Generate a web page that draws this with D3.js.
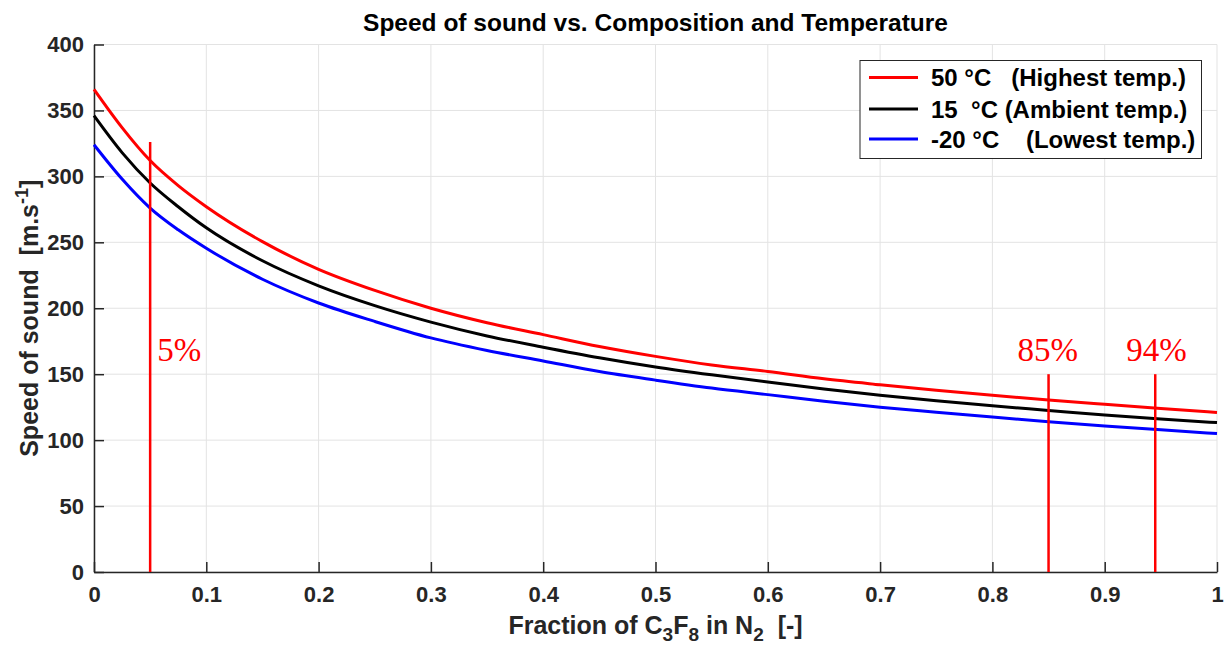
<!DOCTYPE html>
<html>
<head>
<meta charset="utf-8">
<script src="https://cdn.jsdelivr.net/npm/d3@7"></script>
<style>
  body { margin: 0; background: #fff; }
  svg { font-family: "Liberation Sans", Arial, sans-serif; }
</style>
</head>
<body>
<svg width="1231" height="646"></svg>
<script>
// fraction of C3F8 in N2
var fraction = [0, 0.025, 0.05, 0.075, 0.1, 0.15, 0.2, 0.25, 0.3, 0.35, 0.4, 0.45, 0.5,
                0.55, 0.6, 0.65, 0.7, 0.75, 0.8, 0.85, 0.9, 0.95, 1.0];
// speed of sound, m/s
var speed50 = [366, 337, 312, 293, 277, 250.5, 229.5, 213.5, 200, 189, 180, 171, 163.5,
               157, 152, 146.5, 142, 137.8, 134, 130.5, 127.2, 124, 121];
var speed15 = [346, 318, 295, 277, 261, 236, 217, 202, 189.5, 179, 170.5, 162.5, 155.5,
               149.5, 144, 138.8, 134, 129.8, 126, 122.5, 119, 116, 113.3];
var speedM20 = [324, 298, 276, 259.5, 245.5, 222, 204, 190, 177.5, 168, 160, 152, 145.5,
                139.5, 134.5, 129.5, 125, 121.2, 117.5, 114, 110.8, 107.8, 105];

var seriesNames = ["50 °C   (Highest temp.)", "15  °C (Ambient temp.)", "-20 °C    (Lowest temp.)"];
var seriesColors = ["#ff0000", "#000000", "#0000ff"];
var seriesData = [speed50, speed15, speedM20];

// vertical marker lines: position, top value, label
var markerX = [0.05, 0.85, 0.945];
var markerTop = [326, 150, 150];
var markerLabels = ["5%", "85%", "94%"];

var xTicks = [0, 0.1, 0.2, 0.3, 0.4, 0.5, 0.6, 0.7, 0.8, 0.9, 1];
var yTicks = [0, 50, 100, 150, 200, 250, 300, 350, 400];

var svg = d3.select("svg");
var pLeft = 94, pRight = 1217, pTop = 44.5, pBottom = 572;

var x = d3.scaleLinear().domain([0, 1]).range([pLeft, pRight]);
var y = d3.scaleLinear().domain([0, 400]).range([pBottom, pTop]);

// grid
svg.append("g").selectAll("line")
    .data(xTicks).enter().append("line")
    .attr("x1", d => x(d)).attr("x2", d => x(d))
    .attr("y1", pTop).attr("y2", pBottom)
    .attr("stroke", "#e3e3e3").attr("stroke-width", 1);
svg.append("g").selectAll("line")
    .data(yTicks).enter().append("line")
    .attr("x1", pLeft).attr("x2", pRight)
    .attr("y1", d => y(d)).attr("y2", d => y(d))
    .attr("stroke", "#e3e3e3").attr("stroke-width", 1);

// axes (ticks pointing inward)
var xAxis = svg.append("g")
    .attr("transform", "translate(0," + pBottom + ")")
    .call(d3.axisBottom(x).tickValues(xTicks).tickSizeInner(-10).tickSizeOuter(0).tickPadding(14)
        .tickFormat(d => d === 0 || d === 1 ? d3.format("d")(d) : d3.format(".1f")(d)));
var yAxis = svg.append("g")
    .attr("transform", "translate(" + pLeft + ",0)")
    .call(d3.axisLeft(y).tickValues(yTicks).tickSizeInner(-10).tickSizeOuter(0).tickPadding(10));

[xAxis, yAxis].forEach(function (g) {
    g.select(".domain").attr("stroke", "#262626").attr("stroke-width", 1.5);
    g.selectAll(".tick line").attr("stroke", "#262626").attr("stroke-width", 1.5);
    g.selectAll(".tick text")
        .attr("fill", "#262626")
        .style("font-size", "22px")
        .style("font-weight", "bold")
        .style("font-family", "'Liberation Sans', Arial, sans-serif");
});

// curves
var line = d3.line()
    .x(function (d, i) { return x(fraction[i]); })
    .y(function (d) { return y(d); })
    .curve(d3.curveMonotoneX);

svg.append("g").selectAll("path")
    .data(seriesData).enter().append("path")
    .attr("d", d => line(d))
    .attr("fill", "none")
    .attr("stroke", (d, i) => seriesColors[i])
    .attr("stroke-width", 3);

// marker lines and labels
svg.append("g").selectAll("line")
    .data(markerX).enter().append("line")
    .attr("x1", d => x(d)).attr("x2", d => x(d))
    .attr("y1", pBottom).attr("y2", (d, i) => y(markerTop[i]))
    .attr("stroke", "#ff0000").attr("stroke-width", 2.5);

var labelDx = [7, -31, -29];
svg.append("g").selectAll("text")
    .data(markerLabels).enter().append("text")
    .attr("x", (d, i) => x(markerX[i]) + labelDx[i])
    .attr("y", 361)
    .attr("fill", "#ff0000")
    .style("font-family", "'Liberation Serif', 'DejaVu Serif', serif")
    .style("font-size", "33px")
    .text(d => d);

// title
svg.append("text")
    .attr("x", (pLeft + pRight) / 2).attr("y", 31)
    .attr("text-anchor", "middle")
    .style("font-size", "24.5px").style("font-weight", "bold")
    .attr("fill", "#000")
    .text("Speed of sound vs. Composition and Temperature");

// x label
var xl = svg.append("text")
    .attr("x", (pLeft + pRight) / 2).attr("y", 634)
    .attr("text-anchor", "middle")
    .style("font-size", "25px").style("font-weight", "bold")
    .style("white-space", "pre")
    .attr("fill", "#262626");
xl.append("tspan").text("Fraction of C");
xl.append("tspan").attr("dy", 7).style("font-size", "19px").text("3");
xl.append("tspan").attr("dy", -7).text("F");
xl.append("tspan").attr("dy", 7).style("font-size", "19px").text("8");
xl.append("tspan").attr("dy", -7).text(" in N");
xl.append("tspan").attr("dy", 7).style("font-size", "19px").text("2");
xl.append("tspan").attr("dy", -7).text("  [-]");

// y label
var yl = svg.append("text")
    .attr("transform", "translate(38," + ((pTop + pBottom) / 2 + 10) + ") rotate(-90)")
    .attr("text-anchor", "middle")
    .style("font-size", "25px").style("font-weight", "bold")
    .style("white-space", "pre")
    .attr("fill", "#262626");
yl.append("tspan").text("Speed of sound  [m.s");
yl.append("tspan").attr("dy", -10).style("font-size", "18px").text("-1");
yl.append("tspan").attr("dy", 10).text("]");

// legend
var legend = svg.append("g");
legend.append("rect")
    .attr("x", 860).attr("y", 60.5).attr("width", 341.5).attr("height", 98)
    .attr("fill", "#fff").attr("stroke", "#262626").attr("stroke-width", 1);
var rowY = [77.5, 109, 139];
seriesNames.forEach(function (name, i) {
    legend.append("line")
        .attr("x1", 869).attr("x2", 918)
        .attr("y1", rowY[i]).attr("y2", rowY[i])
        .attr("stroke", seriesColors[i]).attr("stroke-width", 3);
    legend.append("text")
        .attr("x", 931).attr("y", rowY[i] + 8.5)
        .style("font-size", "24px").style("font-weight", "bold")
        .style("white-space", "pre")
        .attr("fill", "#000")
        .text(name);
});
</script>
</body>
</html>
